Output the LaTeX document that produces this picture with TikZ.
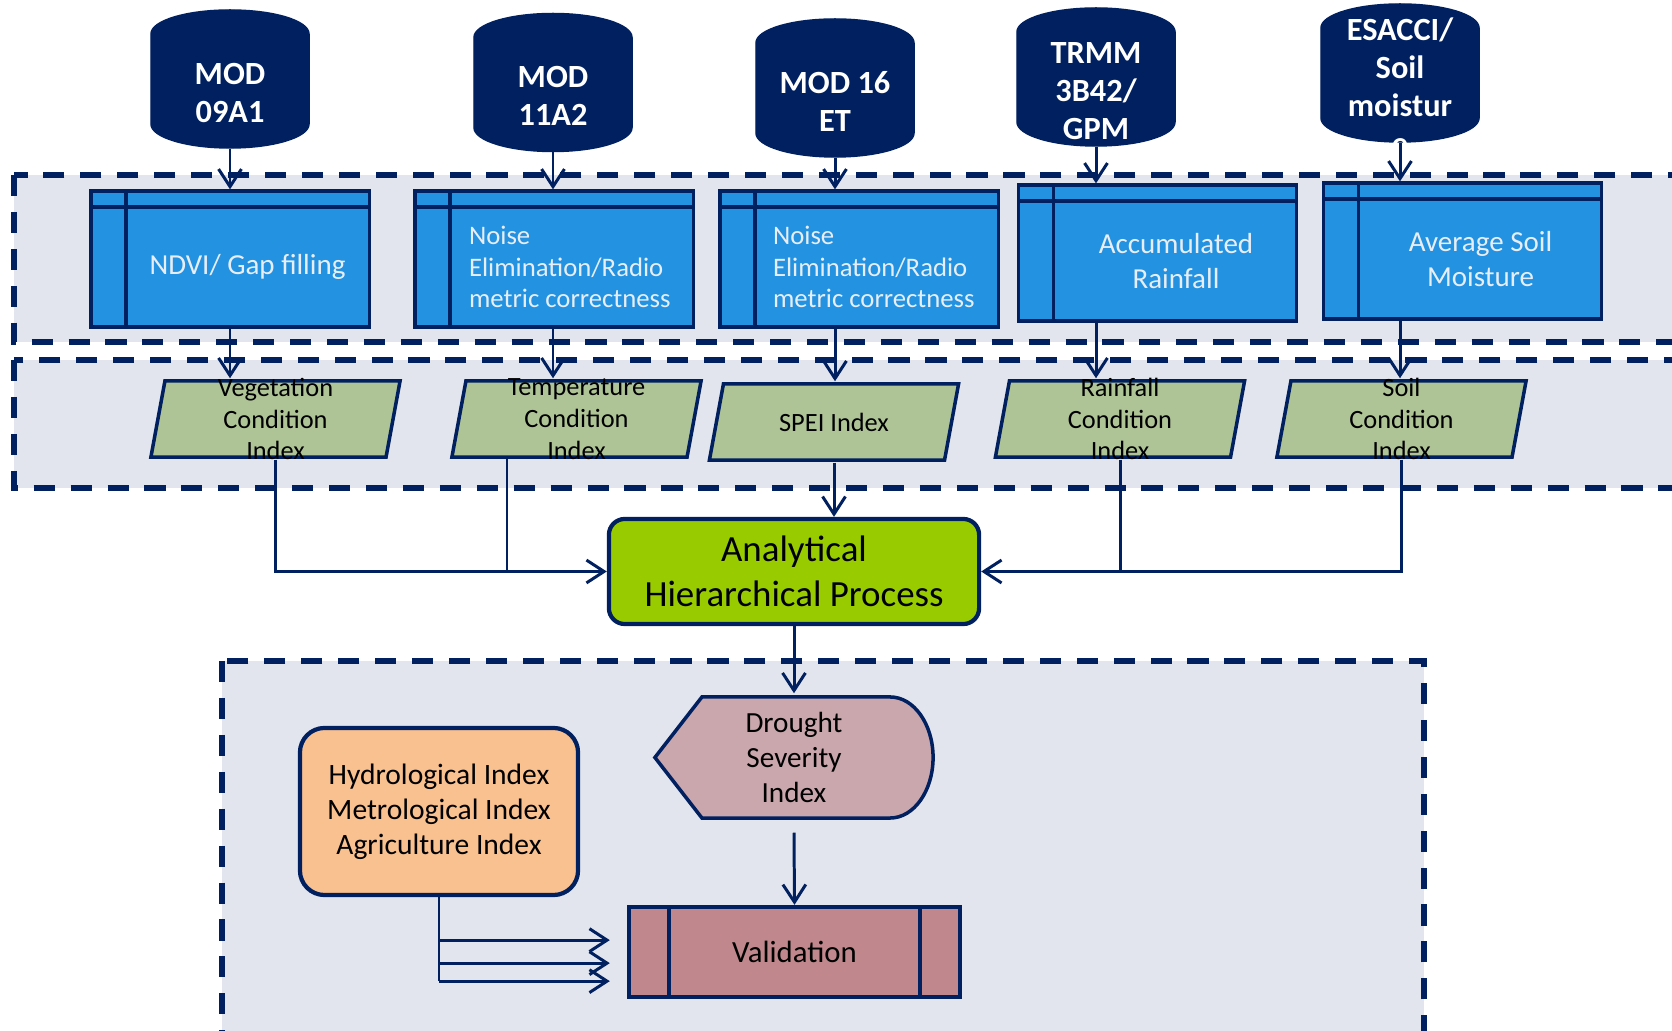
\documentclass[tikz,border=0pt]{standalone}
\usepackage{fontspec}
\setmainfont{Carlito}
\usetikzlibrary{shapes.geometric, arrows.meta, positioning}

\definecolor{navy}{RGB}{0,32,96}
\definecolor{bandgray}{RGB}{226,229,238}
\definecolor{procblue}{RGB}{35,146,224}
\definecolor{proclight}{RGB}{232,238,247}
\definecolor{idxgreen}{RGB}{175,196,150}
\definecolor{ahpgreen}{RGB}{153,204,0}
\definecolor{dsipink}{RGB}{202,167,173}
\definecolor{valrose}{RGB}{192,136,140}
\definecolor{hydroorange}{RGB}{249,192,144}

\begin{document}
\begin{tikzpicture}[x=0.01cm, y=-0.01cm,
  band/.style={draw=navy, fill=bandgray, line width=1.6pt, dash pattern=on 6pt off 4.5pt},
  dbase/.style={cylinder, shape border rotate=90, aspect=3.4, draw=navy, fill=navy,
    minimum width=1.58cm, minimum height=1.38cm, inner sep=2pt, anchor=shape center},
  dbtext/.style={text=white, align=center, inner sep=0pt, yshift=0.035cm,
    font=\fontsize{9.2}{10.8}\selectfont\bfseries},
  proc/.style={rectangle, draw=navy, fill=procblue, line width=0.9pt,
    minimum width=2.78cm, minimum height=1.36cm, inner sep=0pt,
    path picture={\draw[navy, line width=0.9pt]
      ([xshift=0.35cm]path picture bounding box.north west) -- ([xshift=0.35cm]path picture bounding box.south west)
      ([yshift=-0.16cm]path picture bounding box.north west) -- ([yshift=-0.16cm]path picture bounding box.north east);}},
  proctxt/.style={text=proclight, inner sep=0pt, font=\fontsize{8.25}{9}\selectfont},
  noisetxt/.style={proctxt, align=left, anchor=west, font=\fontsize{7.6}{9}\selectfont},
  cindex/.style={rectangle, minimum width=2.53cm, minimum height=0.8cm, inner sep=0pt,
    path picture={\draw[draw=navy, fill=idxgreen, line width=1pt]
      ([xshift=0.16cm, yshift=-0.02cm]path picture bounding box.north west)
      -- ([xshift=-0.02cm, yshift=-0.02cm]path picture bounding box.north east)
      -- ([xshift=-0.16cm, yshift=0.02cm]path picture bounding box.south east)
      -- ([xshift=0.02cm, yshift=0.02cm]path picture bounding box.south west) -- cycle;}},
  cidxtxt/.style={align=center, inner sep=0pt, font=\fontsize{7.5}{9}\selectfont},
  ahpbox/.style={rectangle, rounded corners=4.5pt, draw=navy, fill=ahpgreen, line width=1.2pt,
    minimum width=3.7cm, minimum height=1.05cm, inner sep=0pt, align=center,
    font=\fontsize{10.5}{12.8}\selectfont},
  dsibox/.style={rectangle, minimum width=2.84cm, minimum height=1.27cm, inner sep=0pt,
    align=center, font=\fontsize{8.3}{10}\selectfont,
    path picture={\draw[draw=navy, fill=dsipink, line width=1pt]
      ([xshift=0.03cm]path picture bounding box.west)
      -- ([xshift=0.5cm, yshift=-0.03cm]path picture bounding box.north west)
      -- ([xshift=-0.46cm, yshift=-0.03cm]path picture bounding box.north east)
      arc[start angle=90, end angle=-90, x radius=0.43cm, y radius=0.605cm]
      -- ([xshift=0.5cm, yshift=0.03cm]path picture bounding box.south west) -- cycle;}},
  validbox/.style={rectangle, draw=navy, fill=valrose, line width=1.2pt,
    minimum width=3.31cm, minimum height=0.9cm, inner sep=0pt,
    font=\fontsize{8.75}{10}\selectfont,
    path picture={\draw[navy, line width=1.2pt]
      ([xshift=0.4cm]path picture bounding box.north west) -- ([xshift=0.4cm]path picture bounding box.south west)
      ([xshift=-0.4cm]path picture bounding box.north east) -- ([xshift=-0.4cm]path picture bounding box.south east);}},
  idxbox/.style={rectangle, rounded corners=7pt, draw=navy, fill=hydroorange, line width=1.2pt,
    minimum width=2.78cm, minimum height=1.67cm, inner sep=0pt, align=center,
    font=\fontsize{8.4}{10}\selectfont},
  link/.style={draw=navy, line width=0.85pt},
  conn/.style={link, -{Straight Barb[length=5pt,width=6.5pt]}}]

  \clip (0,0) rectangle (1672,1031);

  \draw[band] (14,175) rectangle (1700,342);
  \draw[band] (14,360) rectangle (1700,488);
  \draw[band] (222,661) rectangle (1424,1060);

  \node[dbase, label={[dbtext]center:MOD\\09A1}] (mod09) at (230,79) {};
  \node[dbase, label={[dbtext]center:MOD\\11A2}] (mod11) at (553,82.5) {};
  \node[dbase, label={[dbtext]center:MOD 16\\ET}] (mod16) at (835,88) {};
  \node[dbase, label={[dbtext]center:TRMM\\3B42/\\GPM}] (trmm) at (1096,77) {};
  \node[dbase, label={[dbtext]center:ESACCI/\\Soil\\moistur\\e}] (esacci) at (1400,73) {};

  \node[proc, label={[proctxt, xshift=0.175cm, yshift=-0.08cm]center:NDVI/ Gap filling}] (ndvi) at (230,259) {};
  \node[proc, label={[noisetxt, xshift=0.55cm, yshift=-0.08cm]180:Noise\\Elimination/Radio\\metric correctness}] (noisea) at (554,259) {};
  \node[proc, label={[noisetxt, xshift=0.54cm, yshift=-0.08cm]180:Noise\\Elimination/Radio\\metric correctness}] (noiseb) at (859,259) {};
  \node[proc, label={[proctxt, align=center, font=\fontsize{8.25}{9.8}\selectfont, xshift=0.185cm, yshift=-0.08cm]center:Accumulated\\Rainfall}] (rainacc) at (1157.5,253) {};
  \node[proc, label={[proctxt, align=center, font=\fontsize{8.25}{9.8}\selectfont, xshift=0.18cm, yshift=-0.08cm]center:Average Soil\\Moisture}] (soilavg) at (1462.5,251) {};

  \node[cindex, label={[cidxtxt]center:Vegetation\\Condition\\Index}] (veg) at (275.5,419) {};
  \node[cindex, label={[cidxtxt]center:Temperature\\Condition\\Index}] (temp) at (576.5,419) {};
  \node[cindex, label={[cidxtxt]center:SPEI Index}] (spei) at (834,422) {};
  \node[cindex, label={[cidxtxt]center:Rainfall\\Condition\\Index}] (rainci) at (1120,419) {};
  \node[cindex, label={[cidxtxt]center:Soil\\Condition\\Index}] (soilci) at (1401.5,419) {};

  \node[ahpbox] (ahp) at (794,571.5) {Analytical\\Hierarchical Process};
  \node[dsibox] (dsi) at (794,757.5) {Drought\\Severity\\Index};
  \node[validbox] (valid) at (794.5,952) {Validation};
  \node[idxbox] (hydro) at (439,811.5) {Hydrological Index\\Metrological Index\\Agriculture Index};

  \draw[conn] (mod09.south) -- (mod09.south |- ndvi.north);
  \draw[conn] (mod11.south) -- (mod11.south |- noisea.north);
  \draw[conn] (mod16.south) -- (mod16.south |- noiseb.north);
  \draw[conn] (trmm.south) -- (trmm.south |- rainacc.north);
  \draw[conn] (esacci.south) -- (esacci.south |- soilavg.north);

  \draw[conn] (mod09.south |- ndvi.south) -- (mod09.south |- veg.north);
  \draw[conn] (mod11.south |- noisea.south) -- (mod11.south |- temp.north);
  \draw[conn] (mod16.south |- noiseb.south) -- (mod16.south |- spei.north);
  \draw[conn] (trmm.south |- rainacc.south) -- (trmm.south |- rainci.north);
  \draw[conn] (esacci.south |- soilavg.south) -- (esacci.south |- soilci.north);

  \coordinate (tjoin) at (507,457);
  \draw[conn] (veg.south) |- (ahp.west);
  \draw[link] (tjoin) -- (tjoin |- ahp.west);
  \draw[conn] (spei.south) -- (spei.south |- ahp.north);
  \draw[link] (rainci.south) -- (rainci.south |- ahp.east);
  \draw[conn] (soilci.south) |- (ahp.east);

  \draw[conn] (ahp.south) -- (dsi.north);
  \draw[conn] ([yshift=-0.11cm]dsi.south) -- (valid.north);

  \draw[link] (hydro.south) -- ++(0,84) coordinate (hfoot);
  \coordinate (hmid) at ([yshift=0.18cm]hfoot);
  \coordinate (htop) at ([yshift=0.41cm]hfoot);
  \draw[conn, shorten >=0.17cm] (htop) -- (htop -| valid.west);
  \draw[conn, shorten >=0.17cm] (hmid) -- (hmid -| valid.west);
  \draw[conn, shorten >=0.17cm] (hfoot) -- (hfoot -| valid.west);
\end{tikzpicture}
\end{document}
